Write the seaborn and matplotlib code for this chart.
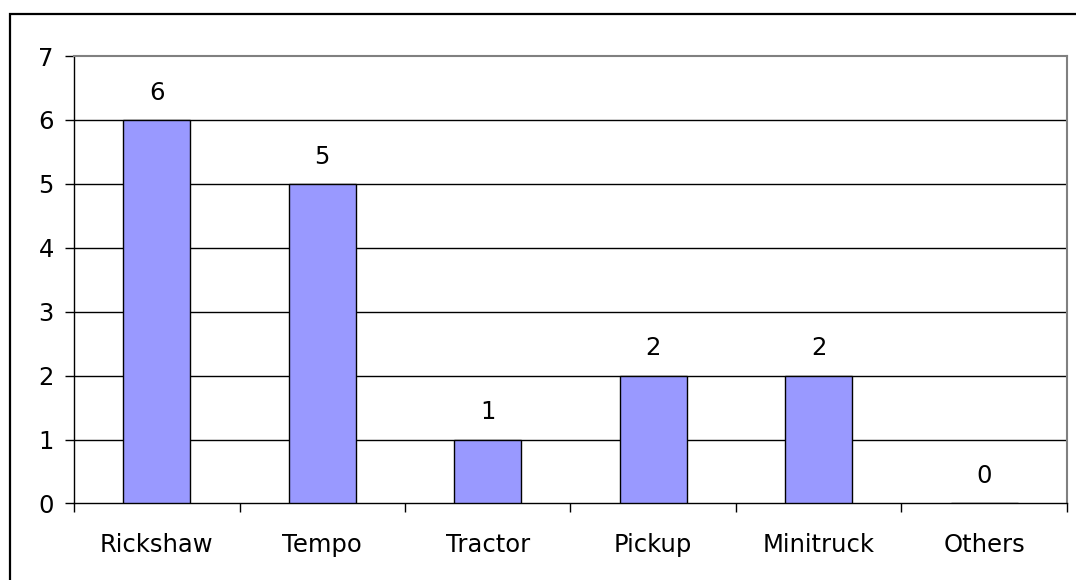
import matplotlib
matplotlib.use("Agg")
import matplotlib.pyplot as plt
from matplotlib.patches import Rectangle
from matplotlib.ticker import FixedLocator
import seaborn as sns
import pandas as pd

categories = ["Rickshaw", "Tempo", "Tractor", "Pickup", "Minitruck", "Others"]
counts = [6, 5, 1, 2, 2, 0]
y_ticks = [0, 1, 2, 3, 4, 5, 6, 7]

df = pd.DataFrame({"category": categories, "count": counts})

sns.set_theme(style="white")
plt.rcParams["font.family"] = ["DejaVu Sans"]
FS = 17.5

fig = plt.figure(figsize=(10.76, 5.8), dpi=100)
ax = fig.add_axes([0.0688, 0.1319, 0.9228, 0.7715])

sns.barplot(data=df, x="category", y="count", color="#9999FF",
            saturation=1, edgecolor="black", linewidth=1.0, width=0.405,
            ax=ax, zorder=3)

ax.set_ylim(0, 7)
ax.set_xlim(-0.5, len(categories) - 0.5)
ax.set_yticks(y_ticks)
ax.set_xlabel("")
ax.set_ylabel("")

# horizontal grid lines at the inner integer levels
for v in y_ticks[1:-1]:
    ax.axhline(v, color="black", linewidth=1.0, zorder=1)

for side in ["left", "bottom"]:
    ax.spines[side].set_color("black")
    ax.spines[side].set_linewidth(1.0)
for side in ["top", "right"]:
    ax.spines[side].set_color("#808080")
    ax.spines[side].set_linewidth(1.5)

ax.tick_params(axis="y", which="major", direction="out", length=6.5, width=1,
               color="black", labelsize=FS, pad=8, left=True, labelcolor="black")
ax.tick_params(axis="x", which="major", length=0, labelsize=FS, pad=21,
               labelcolor="black")
ax.xaxis.set_minor_locator(FixedLocator([i - 0.5 for i in range(len(categories) + 1)]))
ax.tick_params(axis="x", which="minor", direction="out", length=6.5, width=1,
               color="black", bottom=True)

for c in ax.containers:
    ax.bar_label(c, labels=[str(v) for v in counts], padding=11, fontsize=FS,
                 color="black")

# chart frame around the whole figure
fig.patches.append(Rectangle((9.5 / 1076, -0.05), 1.2, 1 - 13.5 / 580 + 0.05,
                             transform=fig.transFigure, fill=False,
                             edgecolor="black", linewidth=1.6))

fig.savefig("out.png", dpi=100)
